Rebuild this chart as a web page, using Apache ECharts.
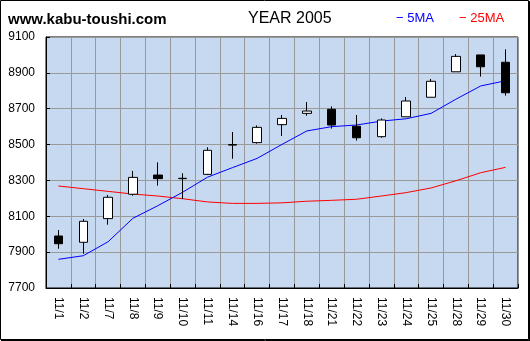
<!DOCTYPE html>
<html>
<head>
<meta charset="utf-8">
<script src="https://cdn.jsdelivr.net/npm/echarts@6/dist/echarts.min.js"></script>
<style>
html,body{margin:0;padding:0;background:#fff;}
#c{width:530px;height:341px;}
</style>
</head>
<body>
<div id="c"></div>
<script>
var categories = ['11/1','11/2','11/7','11/8','11/9','11/10','11/11','11/14','11/16','11/17','11/18','11/21','11/22','11/23','11/24','11/25','11/28','11/29','11/30'];
var openVals  = [7990, 7955, 8087, 8223, 8330, 8310, 8334, 8497, 8511, 8611, 8674, 8697, 8602, 8544, 8655, 8764, 8906, 9000, 8959];
var closeVals = [7947, 8072, 8206, 8317, 8310, 8312, 8468, 8500, 8596, 8646, 8687, 8609, 8538, 8637, 8743, 8853, 8992, 8934, 8789];
var lowVals   = [7919, 7891, 8053, 8215, 8271, 8196, 8330, 8421, 8505, 8548, 8661, 8589, 8522, 8538, 8655, 8764, 8906, 8879, 8773];
var highVals  = [8023, 8085, 8219, 8353, 8401, 8340, 8485, 8570, 8607, 8665, 8737, 8713, 8665, 8646, 8765, 8866, 9005, 9000, 9031];
var ma5  = [7860, 7880, 7958, 8089, 8159, 8234, 8318, 8371, 8423, 8501, 8576, 8600, 8609, 8631, 8644, 8674, 8753, 8827, 8856];
var ma25 = [8269, 8254, 8239, 8224, 8213, 8198, 8180, 8172, 8172, 8175, 8184, 8189, 8195, 8213, 8232, 8258, 8298, 8343, 8373];
var yTicks = {min: 7700, max: 9100, step: 200};

var candleData = categories.map(function(c, i){
  return [openVals[i], closeVals[i], lowVals[i], highVals[i]];
});

var chart = echarts.init(document.getElementById('c'), null, {renderer: 'canvas'});
var font = '"Liberation Sans", Arial, sans-serif';
chart.setOption({
  animation: false,
  backgroundColor: '#ffffff',
  textStyle: {fontFamily: font},
  title: [
    {text: 'www.kabu-toushi.com', left: 3, top: 7, textStyle: {fontSize: 15, fontWeight: 'bold', color: '#000', fontFamily: font}},
    {text: 'YEAR 2005', left: 243, top: 6, textStyle: {fontSize: 16, fontWeight: 'normal', color: '#000', fontFamily: font}},
    {text: '\u2212 5MA', left: 391, top: 7, textStyle: {fontSize: 13, fontWeight: 'normal', color: '#0000ff', fontFamily: font}},
    {text: '\u2212 25MA', left: 454, top: 7, textStyle: {fontSize: 13, fontWeight: 'normal', color: '#ff0000', fontFamily: font}}
  ],
  grid: {left: 46, top: 37, width: 472, height: 251, show: true, backgroundColor: '#c6d9f0', borderColor: '#000', borderWidth: 1},
  xAxis: {
    type: 'category',
    data: categories,
    boundaryGap: true,
    axisLine: {show: true, lineStyle: {color: '#000', width: 1}},
    axisTick: {show: true, inside: true, length: 4, lineStyle: {color: '#000'}},
    splitLine: {show: true, lineStyle: {color: '#999999', width: 1}},
    axisLabel: {rotate: -90, margin: 9, fontSize: 12, color: '#000', fontFamily: font, interval: 0}
  },
  yAxis: {
    type: 'value',
    min: yTicks.min,
    max: yTicks.max,
    interval: yTicks.step,
    axisLine: {show: true, lineStyle: {color: '#000', width: 1}},
    axisTick: {show: true, inside: true, length: 4, lineStyle: {color: '#000'}},
    splitLine: {show: true, lineStyle: {color: '#999999', width: 1}},
    axisLabel: {margin: 11, fontSize: 12, color: '#000', fontFamily: font, formatter: function(v){ return String(v); }}
  },
  series: [
    {
      type: 'line', name: '25MA', data: ma25, symbol: 'none', smooth: false,
      lineStyle: {color: '#ff0000', width: 1}, z: 2
    },
    {
      type: 'line', name: '5MA', data: ma5, symbol: 'none', smooth: false,
      lineStyle: {color: '#0000ff', width: 1}, z: 2
    },
    {
      type: 'candlestick', name: 'price', data: candleData, barWidth: 9, z: 3,
      itemStyle: {color: '#ffffff', color0: '#000000', borderColor: '#000000', borderColor0: '#000000', borderWidth: 1}
    }
  ],
  graphic: [
    {type: 'rect', shape: {x: 0.5, y: 0.5, width: 528, height: 339}, style: {fill: 'none', stroke: '#000', lineWidth: 1}, z: 100, silent: true},
    {type: 'line', shape: {x1: 529.5, y1: 1, x2: 529.5, y2: 341}, style: {stroke: '#000', lineWidth: 1}, z: 100, silent: true},
    {type: 'line', shape: {x1: 1, y1: 340.5, x2: 530, y2: 340.5}, style: {stroke: '#000', lineWidth: 1}, z: 100, silent: true}
  ]
});
</script>
</body>
</html>
